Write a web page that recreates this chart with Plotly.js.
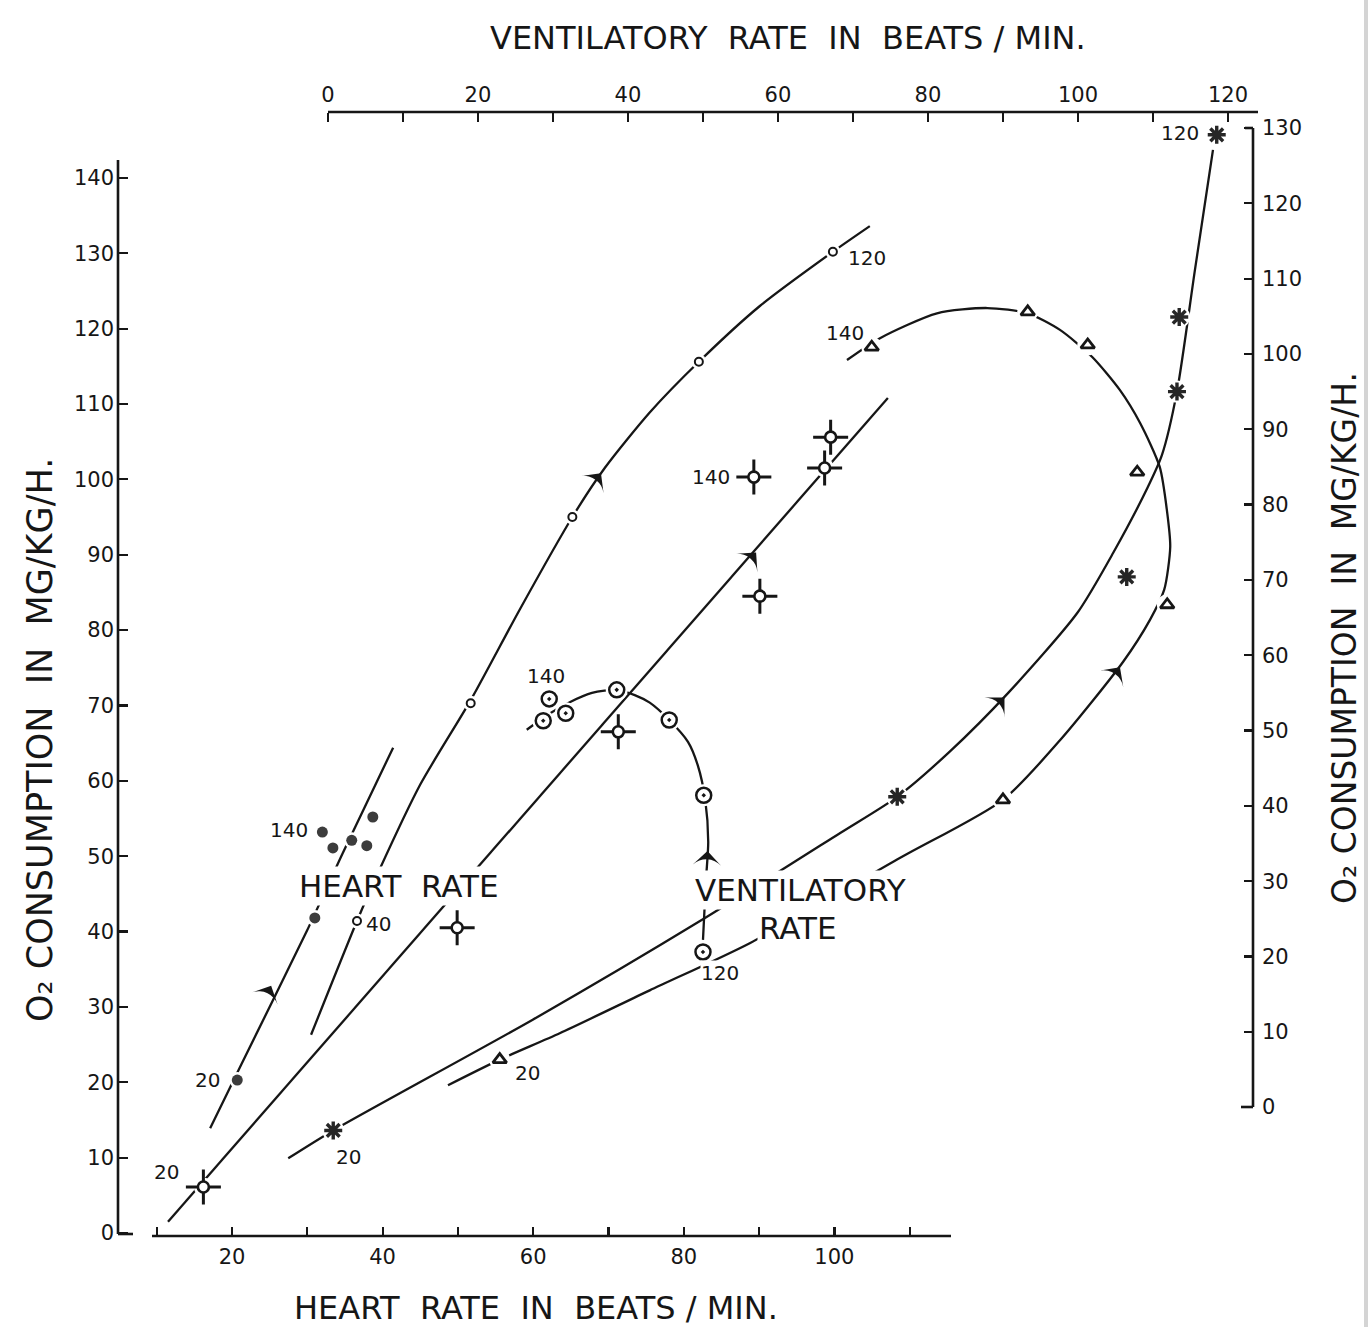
<!DOCTYPE html>
<html><head><meta charset="utf-8">
<script src="https://cdn.plot.ly/plotly-3.0.1.min.js"></script>
<style>html,body{margin:0;padding:0;background:#fff}#chart{width:1371px;height:1327px}</style>
</head><body><div id="chart"></div>
<script>
// ===== DATA =====
// Heart-rate curves: x = heart rate (beats/min, bottom axis), y = O2 consumption (left axis)
const dotsHR = [20.7, 31.0, 38.7, 35.9, 37.9, 33.4, 32.0];
const dotsO2 = [20.3, 41.8, 55.2, 52.1, 51.4, 51.1, 53.2];
const dotsLabel = ['20', '', '', '', '', '', '140'];
const dotsLineHR = [17.1, 21.2, 30.0, 34.7, 41.4];
const dotsLineO2 = [13.9, 22.3, 40.2, 50.4, 64.4];

const openHR = [36.6, 51.7, 65.2, 82.0, 99.8];
const openO2 = [41.4, 70.3, 95.0, 115.6, 130.2];
const openLabel = ['40', '', '', '', '120'];
const openLineHR = [30.5, 36.6, 39.4, 45.0, 51.7, 58.2, 65.2, 69.5, 75.5, 82.0, 90.1, 99.8, 104.7];
const openLineO2 = [26.3, 41.4, 47.8, 59.5, 70.7, 82.7, 95.0, 101.5, 108.9, 115.6, 123.0, 130.2, 133.6];

const crossHR = [16.2, 49.9, 71.3, 90.1, 98.7, 99.5, 89.3];
const crossO2 = [6.1, 40.5, 66.5, 84.5, 101.5, 105.6, 100.3];
const crossLabel = ['20', '', '', '', '', '', '140'];
const crossLineHR = [11.5, 107.1];
const crossLineO2 = [1.5, 110.8];

const hrArrowX = [25.2, 69.0, 89.6];
const hrArrowY = [32.8, 100.8, 90.3];

// Ventilatory-rate curves: x = ventilatory rate (top axis), y = O2 consumption (right axis)
const dcircVR = [50.0, 50.1, 45.5, 38.5, 31.7, 28.7, 29.5];
const dcircO2 = [20.6, 41.4, 51.4, 55.4, 52.3, 51.3, 54.2];
const dcircLabel = ['120', '', '', '', '', '', '140'];
const dcircLineVR = [50.0, 50.4, 50.7, 50.3, 49.3, 48.0, 45.5, 42.9, 40.9, 38.5, 35.2, 32.3, 29.3, 26.5];
const dcircLineO2 = [22.2, 30.2, 35.2, 40.8, 45.4, 48.5, 51.4, 53.7, 54.7, 55.4, 55.0, 53.8, 52.1, 50.1];

const astVR = [0.7, 75.9, 106.5, 113.2, 113.5, 118.5];
const astO2 = [-3.1, 41.2, 70.4, 95.0, 104.9, 129.1];
const astLabel = ['20', '', '', '', '', '120'];
const astLineVR = [-5.3, 0.7, 27.3, 49.6, 68.3, 75.9, 82.9, 90.7, 99.9, 104.7, 109.3, 111.2, 113.2, 115.6, 118.0];
const astLineO2 = [-6.8, -3.1, 11.6, 24.7, 36.4, 41.2, 47.2, 55.0, 65.6, 73.6, 82.3, 86.6, 95.0, 111.2, 127.1];

const triVR = [22.9, 90.0, 111.9, 107.9, 101.3, 93.3, 72.5];
const triO2 = [6.3, 40.8, 66.7, 84.3, 101.2, 105.6, 100.9];
const triLabel = ['20', '', '', '', '', '', '140'];
const triLineVR = [16.0, 22.9, 30.9, 42.9, 56.3, 76.3, 90.0, 97.6, 106.0, 109.6, 111.5, 112.3, 111.9, 110.9, 108.3, 105.6, 101.9, 97.6, 93.3, 87.9, 81.2, 73.6, 69.2];
const triLineO2 = [2.9, 6.3, 9.8, 15.5, 21.8, 33.1, 40.8, 48.7, 59.1, 64.7, 68.7, 74.4, 78.9, 85.0, 90.8, 95.2, 99.6, 103.2, 105.4, 106.1, 105.4, 102.1, 99.2];

const vrArrowX = [50.6, 90.2, 105.6];
const vrArrowY = [34.0, 54.4, 58.4];

// Axis ticks
const hrTicks = [20, 40, 60, 80, 100];
const hrMinorTicks = [10, 30, 50, 70, 90, 110];
const o2LeftTicks = [0, 10, 20, 30, 40, 50, 60, 70, 80, 90, 100, 110, 120, 130, 140];
const vrTicks = [0, 20, 40, 60, 80, 100, 120];
const vrMinorTicks = [10, 30, 50, 70, 90, 110];
const o2RightTicks = [0, 10, 20, 30, 40, 50, 60, 70, 80, 90, 100, 110, 120, 130];

// ===== STYLE =====
const W = 1371, H = 1327;
const FONT = '"DejaVu Sans", sans-serif';
const INK = '#161616';
const P = px => px / W;          // pixel -> paper x
const Q = py => 1 - py / H;      // pixel -> paper y

const LINE = {color: INK, width: 2.3, shape: 'spline', smoothing: 0.7};
function hr(x, y, o) { return Object.assign({type: 'scatter', x: x, y: y, xaxis: 'x', yaxis: 'y', hoverinfo: 'skip', cliponaxis: false}, o); }
function vr(x, y, o) { return Object.assign({type: 'scatter', x: x, y: y, xaxis: 'x2', yaxis: 'y2', hoverinfo: 'skip', cliponaxis: false}, o); }
function knock(size) { return {mode: 'markers', marker: {symbol: 'circle', size: size, color: '#ffffff', line: {width: 0}}}; }

// arrowheads: marker angle from the screen direction of travel
const hrArrowDir = [[1, -2.05], [1, -1.3], [1, -1.144]];
const vrArrowDir = [[0.04, -1], [1, -1.0], [1, -1.4]];
const ang = dirs => dirs.map(d => Math.atan2(d[0], -d[1]) * 180 / Math.PI);
const ARROW = a => ({mode: 'markers', marker: {symbol: 'arrow-wide', size: 20, color: INK, angle: a, line: {width: 0}}});

const traces = [
  hr(dotsLineHR, dotsLineO2, {mode: 'lines', line: LINE}),
  hr(openLineHR, openLineO2, {mode: 'lines', line: LINE}),
  hr(crossLineHR, crossLineO2, {mode: 'lines', line: Object.assign({}, LINE, {shape: 'linear'})}),
  vr(dcircLineVR, dcircLineO2, {mode: 'lines', line: LINE}),
  vr(astLineVR, astLineO2, {mode: 'lines', line: LINE}),
  vr(triLineVR, triLineO2, {mode: 'lines', line: LINE}),
  // white knock-outs: the pen lines stop short of each symbol
  hr(dotsHR, dotsO2, knock(16)),
  hr(openHR, openO2, knock(15)),
  hr(crossHR, crossO2, knock(19)),
  vr(dcircVR, dcircO2, knock(22)),
  vr(astVR, astO2, knock(22)),
  vr(triVR, triO2, knock(21)),
  // symbols
  hr(dotsHR, dotsO2, {mode: 'markers', marker: {symbol: 'circle', size: 11, color: '#3c3c3c'}}),
  hr(openHR, openO2, {mode: 'markers', marker: {symbol: 'circle-open', size: 8, color: INK, line: {width: 2, color: INK}}}),
  hr(crossHR, crossO2, {mode: 'markers', marker: {symbol: 'cross-thin-open', size: 25, color: INK, line: {width: 3, color: INK}}}),
  hr(crossHR, crossO2, {mode: 'markers', marker: {symbol: 'circle', size: 11, color: '#ffffff', line: {width: 2.6, color: INK}}}),
  vr(dcircVR, dcircO2, {mode: 'markers', marker: {symbol: 'circle-open-dot', size: 15, color: INK, line: {width: 2.5, color: INK}}}),
  vr(astVR, astO2, {mode: 'markers', marker: {symbol: 'asterisk-open', size: 15, color: '#262626', line: {width: 3.4, color: '#262626'}}}),
  vr(triVR, triO2, {mode: 'markers', marker: {symbol: 'triangle-up-open', size: 12, color: INK, line: {width: 2.8, color: INK}}}),
  // direction arrows
  hr(hrArrowX, hrArrowY, ARROW(ang(hrArrowDir))),
  vr(vrArrowX, vrArrowY, ARROW(ang(vrArrowDir)))
];

// point labels (offsets in px)
const labelShift = {
  dots: {0: [-30, 0], 6: [-33, 2]},
  open: {0: [21, -3], 4: [34, -6]},
  cross: {0: [-37, 15], 6: [-43, 0]},
  dcirc: {0: [17, -21], 6: [-3, 23]},
  ast: {0: [15, -27], 5: [-37, 2]},
  tri: {0: [28, -13], 6: [-27, 14]}
};
const annotations = [];
function addLabels(xs, ys, labels, shifts, xr, yr) {
  labels.forEach((t, i) => {
    if (!t) return;
    const s = shifts[i] || [0, 0];
    annotations.push({x: xs[i], y: ys[i], xref: xr, yref: yr, text: t, showarrow: false,
      xanchor: 'center', yanchor: 'middle',
      xshift: s[0], yshift: s[1], font: {family: FONT, size: 20, color: INK},
      bgcolor: '#ffffff', borderpad: 0});
  });
}
addLabels(dotsHR, dotsO2, dotsLabel, labelShift.dots, 'x', 'y');
addLabels(openHR, openO2, openLabel, labelShift.open, 'x', 'y');
addLabels(crossHR, crossO2, crossLabel, labelShift.cross, 'x', 'y');
addLabels(dcircVR, dcircO2, dcircLabel, labelShift.dcirc, 'x2', 'y2');
addLabels(astVR, astO2, astLabel, labelShift.ast, 'x2', 'y2');
addLabels(triVR, triO2, triLabel, labelShift.tri, 'x2', 'y2');

// group captions and axis titles
function txt(px, py, text, size, o) {
  return Object.assign({xref: 'paper', yref: 'paper', x: P(px), y: Q(py), xanchor: 'center', yanchor: 'middle',
    text: text, showarrow: false, font: {family: FONT, size: size, color: INK}}, o || {});
}
const NB = '\u00a0';
const O2 = 'O\u2082';
annotations.push(
  txt(399, 886, 'HEART' + NB + NB + 'RATE', 31, {bgcolor: '#ffffff', borderpad: 1}),
  txt(801, 890, 'VENTILATORY', 31, {bgcolor: '#ffffff', borderpad: 1}),
  txt(798, 928, 'RATE', 31, {bgcolor: '#ffffff', borderpad: 1}),
  txt(788, 38, 'VENTILATORY' + NB + NB + 'RATE' + NB + NB + 'IN' + NB + NB + 'BEATS' + NB + '/' + NB + 'MIN.', 32),
  txt(536, 1308, 'HEART' + NB + NB + 'RATE' + NB + NB + 'IN' + NB + NB + 'BEATS' + NB + '/' + NB + 'MIN.', 32),
  txt(40, 740, O2 + NB + 'CONSUMPTION' + NB + NB + 'IN' + NB + NB + 'MG/KG/H.', 35, {textangle: -90}),
  txt(1344, 638, O2 + NB + 'CONSUMPTION' + NB + NB + 'IN' + NB + NB + 'MG/KG/H.', 33, {textangle: -90})
);

// hand-drawn axis lines
const AX = {type: 'line', xref: 'paper', yref: 'paper', line: {color: INK, width: 2.6}, layer: 'above'};
const shapes = [
  Object.assign({}, AX, {x0: P(118), x1: P(118), y0: Q(1234), y1: Q(160)}),
  Object.assign({}, AX, {x0: P(118), x1: P(133), y0: Q(1234), y1: Q(1234)}),
  Object.assign({}, AX, {x0: P(152), x1: P(951), y0: Q(1236), y1: Q(1236)}),
  Object.assign({}, AX, {x0: P(328), x1: P(1258), y0: Q(112), y1: Q(112)}),
  Object.assign({}, AX, {x0: P(1253), x1: P(1253), y0: Q(1107), y1: Q(128)}),
  Object.assign({}, AX, {x0: P(1241), x1: P(1253), y0: Q(1107), y1: Q(1107)}),
  Object.assign({}, AX, {x0: P(1245), x1: P(1253), y0: Q(128), y1: Q(128)}),
  {type: 'line', xref: 'paper', yref: 'paper', x0: P(1366), x1: P(1366), y0: 0, y1: 1, line: {color: '#d4d4d4', width: 4}, layer: 'below'}
];

const tickFont = {family: FONT, size: 21, color: INK};
const MINOR = v => ({tickmode: 'array', tickvals: v, ticks: 'inside', ticklen: 9, tickwidth: 2.2, tickcolor: INK, showgrid: false});
const baseAxis = {showgrid: false, zeroline: false, showline: false, tickmode: 'array', ticks: 'inside',
  ticklen: 9, tickwidth: 2.2, tickcolor: INK, tickfont: tickFont, fixedrange: true, anchor: 'free', domain: [0, 1]};

const layout = {
  width: W, height: H,
  margin: {l: 0, r: 0, t: 0, b: 0, pad: 0},
  paper_bgcolor: '#ffffff', plot_bgcolor: 'rgba(0,0,0,0)',
  showlegend: false,
  xaxis: Object.assign({}, baseAxis, {range: [-10.81, 171.26], side: 'bottom', position: Q(1236),
    tickvals: hrTicks, ticktext: hrTicks.map(String), minor: MINOR(hrMinorTicks), ticklabelstandoff: 6}),
  yaxis: Object.assign({}, baseAxis, {range: [-12.47, 163.6], side: 'left', position: P(118),
    tickvals: o2LeftTicks, ticktext: o2LeftTicks.map(String), ticklabelstandoff: 4}),
  xaxis2: Object.assign({}, baseAxis, {range: [-43.73, 139.07], side: 'top', overlaying: 'x', position: Q(112),
    tickvals: vrTicks, ticktext: vrTicks.map(String), minor: MINOR(vrMinorTicks), ticklabelstandoff: 6}),
  yaxis2: Object.assign({}, baseAxis, {range: [-29.2, 147.0], side: 'right', overlaying: 'y', position: P(1253),
    tickvals: o2RightTicks, ticktext: o2RightTicks.map(String), ticklabelstandoff: 8}),
  annotations: annotations,
  shapes: shapes
};

Plotly.newPlot('chart', traces, layout, {staticPlot: true, displayModeBar: false});
</script>
</body></html>
